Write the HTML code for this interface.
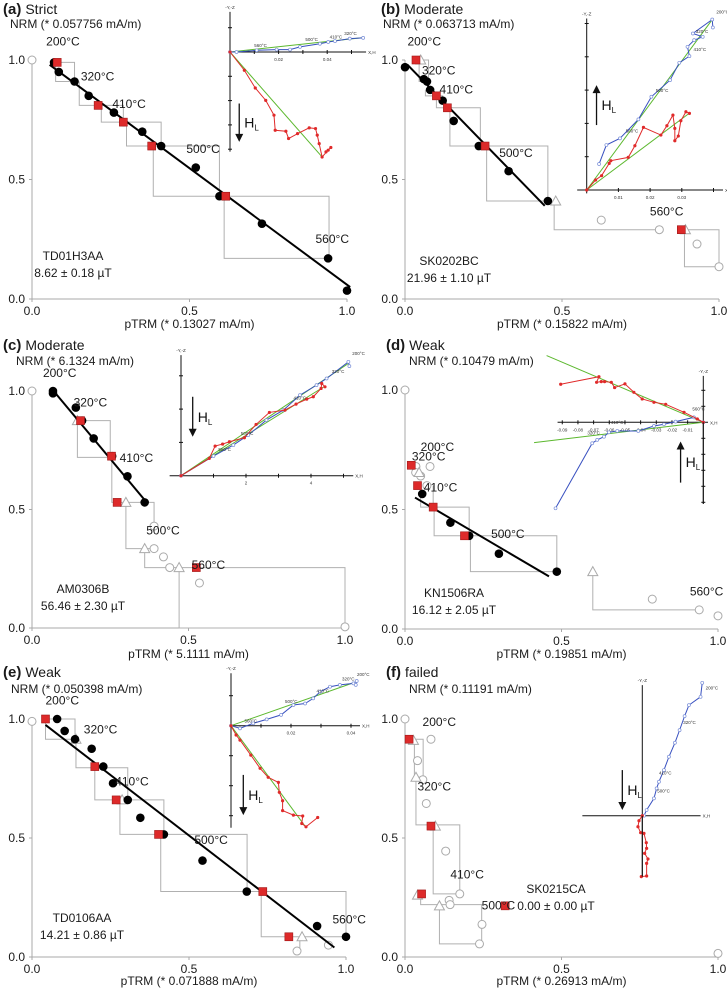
<!DOCTYPE html>
<html><head><meta charset="utf-8">
<style>
html,body{margin:0;padding:0;background:#fff;}
svg{display:block;font-family:"Liberation Sans",Arial,sans-serif;}
</style></head>
<body>
<svg id="fig" width="727" height="992" viewBox="0 0 727 992" xmlns="http://www.w3.org/2000/svg"></svg>
<script>
// ===== Panel (a) data =====
const a_nrm = [[.07,.99],[.085,.95],[.135,.91],[.18,.85],[.26,.78],[.29,.74],[.35,.70],[.41,.64],[.52,.55],[.595,.43],[.73,.315],[.94,.17],[1.0,.035]];
const a_check = [[.08,.99],[.21,.81],[.29,.74],[.38,.64],[.615,.43]];
const a_open = [[0,1.0]];
const a_tri = [];
const a_fit = [[.056,.98],[1.01,.05]];
const a_steps = [[[.075,.99],[.135,.99],[.135,.91],[.075,.91],[.075,.99]],[[.15,.91],[.15,.81],[.29,.81],[.29,.74]],[[.22,.81],[.22,.74],[.41,.74],[.41,.64]],[[.30,.74],[.30,.64],[.595,.64],[.595,.43]],[[.385,.64],[.385,.43],[.943,.43],[.943,.17]],[[.61,.43],[.61,.17],[.943,.17]]];
const a_temps = [["200°C",.045,1.06],["320°C",.155,.915],["410°C",.255,.80],["500°C",.49,.61],["560°C",.90,.235]];
// ===== Panel (b) data =====
const b_nrm = [[0,.97],[.06,.92],[.07,.91],[.08,.875],[.12,.83],[.155,.745],[.235,.64],[.33,.535],[.455,.41]];
const b_check = [[.035,1.0],[.1,.85],[.135,.80],[.255,.64],[.88,.29]];
const b_open = [[.625,.33],[.81,.29],[.93,.23],[1.0,.135]];
const b_tri = [[.05,1.0],[.48,.41],[.893,.29]];
const b_fit = [[.008,.98],[.445,.39]];
const b_steps = [[[.045,1.0],[.075,1.0],[.075,.91],[.045,.91],[.045,1.0]],[[.065,.875],[.065,.85],[.12,.85],[.12,.83]],[[.1,.85],[.1,.80],[.24,.80],[.24,.64]],[[.143,.80],[.143,.64],[.455,.64],[.455,.41]],[[.26,.64],[.26,.41],[.455,.41]],[[.475,.41],[.475,.29],[.81,.29]],[[.88,.29],[1.0,.29],[1.0,.135],[.89,.135],[.89,.29]]];
const b_temps = [["200°C",.008,1.06],["320°C",.054,.94],["410°C",.11,.86],["500°C",.30,.595],["560°C",.78,.35]];
// ===== Panel (c) data =====
const c_nrm = [[.067,1.0],[.067,.99],[.14,.93],[.16,.875],[.197,.80],[.256,.725],[.305,.64],[.36,.53]];
const c_check = [[.155,.875],[.254,.725],[.272,.53],[.525,.255]];
const c_open = [[0,1.0],[.39,.43],[.39,.335],[.42,.30],[.44,.255],[.535,.19],[1.0,.005]];
const c_tri = [[.145,.875],[.30,.53],[.36,.335],[.47,.255]];
const c_fit = [[.069,1.0],[.36,.54]];
const c_steps = [[[.145,.875],[.25,.875],[.25,.72],[.145,.72],[.145,.875]],[[.255,.725],[.255,.53],[.39,.53],[.39,.43]],[[.30,.53],[.30,.335],[.39,.335]],[[.36,.335],[.36,.255],[1.0,.255],[1.0,.005]],[[.47,.255],[.47,0],[1.0,0]]];
const c_temps = [["200°C",.035,1.06],["320°C",.133,.935],["410°C",.28,.70],["500°C",.365,.395],["560°C",.51,.25]];
// ===== Panel (d) data =====
const d_nrm = [[.055,.565],[.145,.445],[.205,.39],[.30,.315],[.485,.24]];
const d_check = [[.02,.685],[.04,.60],[.09,.51],[.19,.39]];
const d_open = [[0,1.0],[.035,.68],[.034,.655],[.05,.64],[.08,.68],[.07,.60],[.79,.125],[.94,.08],[1.0,.055]];
const d_tri = [[.045,.655],[.60,.24]];
const d_fit = [[.032,.55],[.46,.22]];
const d_steps = [[[.05,.56],[.05,.51],[.205,.51],[.205,.39]],[[.093,.51],[.093,.39],[.485,.39],[.485,.24]],[[.209,.39],[.209,.24],[.485,.24]],[[.60,.24],[.60,.08],[.94,.08]],[[.09,.60],[.09,.51]]];
const d_temps = [["200°C",.05,.745],["320°C",.022,.705],["410°C",.06,.575],["500°C",.275,.38],["560°C",.91,.14]];
// ===== Panel (e) data =====
const e_nrm = [[.08,1.0],[.104,.95],[.137,.915],[.19,.875],[.227,.80],[.258,.73],[.305,.66],[.345,.585],[.42,.515],[.543,.405],[.684,.275],[.908,.13],[1.0,.085]];
const e_check = [[.043,1.0],[.20,.80],[.268,.66],[.403,.515],[.735,.275],[.818,.085]];
const e_open = [[0,.99],[.844,.025],[.944,.05]];
const e_tri = [[.14,.915],[.287,.66],[.86,.085]];
const e_fit = [[.043,.975],[.963,.04]];
const e_steps = [[[.043,1.0],[.137,1.0],[.137,.915],[.043,.915],[.043,1.0]],[[.14,.915],[.14,.795],[.305,.795],[.305,.66]],[[.20,.795],[.20,.66],[.42,.66],[.42,.515]],[[.28,.66],[.28,.515],[.685,.515],[.685,.275]],[[.41,.515],[.41,.275],[1.0,.275],[1.0,.085]],[[.73,.275],[.73,.085],[1.0,.085]],[[.853,.085],[.853,.03]]];
const e_temps = [["200°C",.043,1.06],["320°C",.165,.94],["410°C",.265,.72],["500°C",.517,.475],["560°C",.957,.14]];
// ===== Panel (f) data =====
const f_nrm = [];
const f_check = [[.013,.915],[.083,.55],[.053,.265],[.32,.215]];
const f_open = [[0,1.0],[.083,.915],[.04,.825],[.057,.745],[.068,.645],[.13,.445],[.175,.265],[.141,.238],[.144,.22],[.246,.137],[.238,.055],[1.0,.015]];
const f_tri = [[.027,.91],[.035,.755],[.097,.55],[.04,.26],[.11,.215]];
const f_fit = [];
const f_steps = [[[.015,.915],[.058,.915],[.058,.755],[.03,.755],[.03,.915]],[[.035,.755],[.035,.555],[.175,.555],[.175,.265]],[[.09,.555],[.09,.265],[.175,.265]],[[.05,.265],[.05,.22],[.245,.22],[.245,.055]],[[.11,.22],[.11,.055],[.24,.055]]];
const f_temps = [["200°C",.056,.97],["320°C",.04,.70],["410°C",.145,.33],["500°C",.245,.20]];

// ===== Zijderveld inset data (units of axis tick spacing) =====
const za_blue = [[0,0],[.27,0],[1.1,.07],[1.92,.1],[2.47,.1],[2.88,.21],[3.7,.34],[4.04,.41],[4.32,.45],[4.93,.55],[5.48,.58]];
const za_red = [[0,0],[.59,-.75],[1.04,-1.48],[1.47,-1.99],[1.81,-2.6],[1.86,-3.22],[2.3,-3.26],[2.41,-3.56],[2.78,-3.36],[3.26,-3.12],[3.52,-3.15],[3.59,-3.42],[3.67,-3.77],[3.79,-4.32],[4.04,-4.04],[4.15,-3.93],[3.95,-4.11]];
const za_green = [[5.48,.59],[3.79,-4.32]];
const zb_blue = [[.39,.78],[.62,1.35],[1.05,1.55],[1.63,2.12],[2.04,2.8],[2.63,3.3],[2.92,3.82],[3.24,4.02],[3.18,4.3],[3.39,4.5],[3.66,4.6],[3.35,4.7],[3.96,5.12],[3.98,4.88]];
const zb_red = [[0,0],[.28,.3],[.47,.43],[.71,.8],[.76,.88],[1.31,.98],[1.52,1.33],[1.79,1.88],[2.34,1.65],[2.53,1.93],[2.72,2.25],[2.78,1.85],[2.78,1.48],[2.89,1.62],[2.97,2.08],[3.13,2.35],[3.24,2.3]];
const zb_green = [[3.97,5.13],[3.23,2.3]];
const zc_blue = [[0,0],[1,.59],[1.61,.92],[2.07,1.22],[2.63,1.67],[3.15,1.97],[3.66,2.42],[4.17,2.72],[4.48,2.92],[5.15,3.42],[5.18,3.29]];
const zc_red = [[0,0],[.87,.52],[1.05,.89],[1.28,.95],[1.49,1.02],[1.95,1.14],[2.31,1.54],[2.72,1.9],[3.2,1.97],[3.54,2.15],[3.87,2.3],[4.07,2.37],[4.31,2.62],[4.33,2.77],[4.43,2.67]];
const zc_green = [[5.15,3.37],[4.43,2.69]];
const zd_blue = [[0,0],[-.6,.31],[-1.77,.04],[-2.51,-.125],[-3.15,-.23],[-4.15,-.54],[-5.49,-.54],[-6.02,-.625],[-6.34,-.9],[-6.77,-1.1],[-7.09,-1.31],[-9.43,-5.375]];
const zd_red = [[-9.1,2.38],[-6.66,2.85],[-6.81,2.5],[-6.51,2.54],[-6.3,2.54],[-5.87,2.5],[-5.66,2.17],[-5.0,2.4],[-4.43,1.875],[-3.9,1.46],[-3.15,1.25],[-2.4,1.125],[-1.23,.625],[-.38,.21],[0,0]];
const zd_green = [[-10,4.17],[-10.8,-1.27]];
const ze_blue = [[0,0],[.3,-.09],[.74,.08],[1.19,.21],[1.67,.36],[2.08,.69],[2.47,.74],[2.74,.91],[2.97,1.13],[3.3,1.3],[3.63,1.36],[4.08,1.41],[4.19,1.49],[4.16,1.36]];
const ze_red = [[0,0],[.17,-.31],[.3,-.48],[.66,-.98],[.97,-1.42],[1.24,-1.72],[1.58,-1.89],[1.61,-2.22],[1.72,-2.5],[1.72,-2.83],[2.08,-2.98],[2.39,-3.01],[2.36,-3.26],[2.5,-3.37],[2.89,-3.06]];
const ze_green = [[4.19,1.47],[2.5,-3.39]];
const zf_blue = [[.05,0],[.13,.17],[.35,.52],[.43,.82],[.5,1.02],[.65,1.37],[.8,1.77],[.98,2.19],[1.12,2.57],[1.27,2.99],[1.4,3.32],[1.75,3.57],[1.8,3.99]];
const zf_red = [[0,0],[-.1,-.15],[-.13,-.33],[-.05,-.51],[.05,-.53],[.12,-.81],[.13,-.98],[.07,-1.13],[.17,-1.3],[.13,-1.43],[.13,-1.81],[-.03,-1.83]];
const zf_green = [];

const NS="http://www.w3.org/2000/svg";
const svg=document.getElementById('fig');
function mk(tag,attrs,parent){const e=document.createElementNS(NS,tag);for(const k in attrs)e.setAttribute(k,attrs[k]);(parent||svg).appendChild(e);return e;}
function txt(s,x,y,size,parent,anchor,weight,fill){const t=mk('text',{x:x,y:y,'font-size':size,'text-anchor':anchor||'start','font-weight':weight||'normal',fill:fill||'#1a1a1a'},parent);t.textContent=s;return t;}

const panels=[
 {id:'a',L:0,T:0,x0:32,W:315,yb:299,H:239,title:'Strict',tx:3,ty:14,nrm:'NRM (* 0.057756 mA/m)',nx:10,ny:28,ptrm:'pTRM (* 0.13027 mA/m)',py:328,name:'TD01H3AA',val:'8.62 ± 0.18 µT',sx:73,sy1:260,
  d:[a_nrm,a_check,a_open,a_tri,a_fit,a_steps,a_temps]},
 {id:'b',L:364,T:0,x0:405,W:314,yb:299,H:239,title:'Moderate',tx:381,ty:14,nrm:'NRM (* 0.063713 mA/m)',nx:383,ny:28,ptrm:'pTRM (* 0.15822 mA/m)',py:328,name:'SK0202BC',val:'21.96 ± 1.10 µT',sx:449,sy1:265,
  d:[b_nrm,b_check,b_open,b_tri,b_fit,b_steps,b_temps]},
 {id:'c',L:0,T:330,x0:32,W:313,yb:628,H:237,title:'Moderate',tx:3,ty:350,nrm:'NRM (* 6.1324 mA/m)',nx:16,ny:365,ptrm:'pTRM (* 5.1111 mA/m)',py:658,name:'AM0306B',val:'56.46 ± 2.30 µT',sx:83,sy1:593,
  d:[c_nrm,c_check,c_open,c_tri,c_fit,c_steps,c_temps]},
 {id:'d',L:364,T:330,x0:405,W:313,yb:629,H:239,title:'Weak',tx:386,ty:350,nrm:'NRM (* 0.10479 mA/m)',nx:409,ny:365,ptrm:'pTRM (* 0.19851 mA/m)',py:658,name:'KN1506RA',val:'16.12 ± 2.05 µT',sx:454,sy1:597,
  d:[d_nrm,d_check,d_open,d_tri,d_fit,d_steps,d_temps]},
 {id:'e',L:0,T:660,x0:32,W:314,yb:957,H:238,title:'Weak',tx:3,ty:677,nrm:'NRM (* 0.050398 mA/m)',nx:11,ny:693,ptrm:'pTRM (* 0.071888 mA/m)',py:985,name:'TD0106AA',val:'14.21 ± 0.86 µT',sx:82,sy1:922,
  d:[e_nrm,e_check,e_open,e_tri,e_fit,e_steps,e_temps]},
 {id:'f',L:364,T:660,x0:405,W:313,yb:957,H:238,title:'failed',tx:386,ty:677,nrm:'NRM (* 0.11191 mA/m)',nx:409,ny:693,ptrm:'pTRM (* 0.26913 mA/m)',py:985,name:'SK0215CA',val:'0.00 ± 0.00 µT',sx:556,sy1:893,
  d:[f_nrm,f_check,f_open,f_tri,f_fit,f_steps,f_temps]}
];

const insets=[
 {ox:230,oy:52,sx:24.3,sy:24.3,xr:[0,5.6],yr:[-4.1,1.65],xt:[1,2,3,4,5],yt:[-4,-3,-2,-1,1],xl:[[2,'0.02'],[4,'0.04']],blue:za_blue,red:za_red,green:za_green,lab:[['560°C',1,.2],['500°C',3.1,.45],['410°C',4.1,.55],['320°C',4.7,.7]],hl:[.38,-2.12,-3.7],cross:false},
 {ox:586.7,oy:190,sx:31.7,sy:33.3,xr:[-.3,4.3],yr:[-.1,5.15],xt:[1,2,3,4],yt:[1,2,3,4,5],xl:[[1,'0.01'],[2,'0.02'],[3,'0.03']],blue:zb_blue,red:zb_red,green:zb_green,lab:[['200°C',4.09,5.3],['320°C',3.44,4.72],['410°C',3.37,4.18],['500°C',2.18,2.95],['560°C',1.23,1.72]],hl:[.31,1.95,3.15],cross:false},
 {ox:181,oy:475.7,sx:32.5,sy:33.3,xr:[-.35,5.3],yr:[0,3.62],xt:[1,2,3,4,5],yt:[1,2,3],xl:[[2,'2'],[4,'4']],blue:zc_blue,red:zc_red,green:zc_green,lab:[['200°C',5.27,3.62],['320°C',4.64,3.09],['410°C',3.46,2.29],['500°C',1.84,1.22],['560°C',1.15,.74]],hl:[.36,2.37,1.17],cross:false},
 {ox:703.3,oy:422.3,sx:15.67,sy:16,xr:[-9.3,.3],yr:[-5.1,2.9],xt:[-9,-8,-7,-6,-5,-4,-3,-2,-1],yt:[-5,-4,-3,-2,-1,1,2],xl:[[-9,'-0.09'],[-8,'-0.08'],[-7,'-0.07'],[-6,'-0.06'],[-5,'-0.05'],[-4,'-0.04'],[-3,'-0.03'],[-2,'-0.02'],[-1,'-0.01']],blue:zd_blue,red:zd_red,green:zd_green,lab:[['560°C',-.7,.73],['410°C',-5.9,-.1],['320°C',-7.4,-.75]],hl:[-1.45,-3.77,-1.2],cross:true},
 {ox:231,oy:725.7,sx:30,sy:30,xr:[0,4.3],yr:[-3.4,1.75],xt:[1,2,3,4],yt:[-3,-2,-1,1],xl:[[2,'0.02'],[4,'0.04']],blue:ze_blue,red:ze_red,green:ze_green,lab:[['560°C',.45,.1],['500°C',1.8,.75],['410°C',2.85,1.1],['320°C',3.7,1.5],['200°C',4.2,1.65]],hl:[.41,-1.64,-2.98],cross:false},
 {ox:642.3,oy:815.7,sx:33.3,sy:33.3,xr:[-1.8,1.75],yr:[-1.83,3.92],xt:[],yt:[],xl:[],blue:zf_blue,red:zf_red,green:zf_green,lab:[['200°C',1.9,3.79],['320°C',1.23,2.75],['410°C',.5,1.24],['500°C',.45,.7]],hl:[-.6,1.37,.17],cross:true}
];

panels.forEach((p,i)=>{
  const g=mk('g',{});
  
  
  const X=v=>p.x0+v*p.W, Y=v=>p.yb-v*p.H;
  const [nrm,chk,open,tri,fit,steps,temps]=p.d;
  // title
  const t=mk('text',{x:p.tx,y:p.ty,'font-size':15,fill:'#1a1a1a'},g);
  
  
  const b1=mk('tspan',{'font-weight':'bold'},t);b1.textContent='('+p.id+')';
  const b2=mk('tspan',{dx:4,'font-size':14},t);b2.textContent=p.title;
  // axes
  const ax=mk('g',{stroke:'#a8a8a8','stroke-width':1,fill:'none'},g);
  
  
  mk('line',{x1:X(0),y1:Y(0),x2:X(0),y2:Y(1.0)},ax);
  mk('line',{x1:X(0),y1:Y(0),x2:X(1.0),y2:Y(0)},ax);
  [0,.5,1].forEach(v=>{mk('line',{x1:X(0)-3,y1:Y(v),x2:X(0),y2:Y(v)},ax);mk('line',{x1:X(v),y1:Y(0),x2:X(v),y2:Y(0)+3},ax);});
  [0,.5,1].forEach(v=>{
    const yl=txt(v.toFixed(1),X(0)-7,Y(v)+4,12,g,'end');
    
    
    const xl=txt(v.toFixed(1),X(v),p.yb+16,12,g,'middle');
    
    
  });
  const nl=txt(p.nrm,p.nx,p.ny,12,g);
  
  
  const pl=txt(p.ptrm,X(0.5),p.py,12,g,'middle');
  
  
  // steps
  steps.forEach(s=>{const pp=mk('polyline',{points:s.map(q=>X(q[0])+','+Y(q[1])).join(' '),fill:'none',stroke:'#b0b0b0','stroke-width':1},g);
    
    });
  open.forEach(q=>{const c=mk('circle',{cx:X(q[0]),cy:Y(q[1]),r:4,fill:'#fff',stroke:'#aaa','stroke-width':1},g);
    
    });
  tri.forEach(q=>{const x=X(q[0]),y=Y(q[1]);const c=mk('polygon',{points:`${x},${y-5} ${x-5},${y+4} ${x+5},${y+4}`,fill:'#fff',stroke:'#aaa','stroke-width':1},g);
    
    });
  if(fit.length){const l=mk('line',{x1:X(fit[0][0]),y1:Y(fit[0][1]),x2:X(fit[1][0]),y2:Y(fit[1][1]),stroke:'#000','stroke-width':2},g);
    
    }
  nrm.forEach(q=>{const c=mk('circle',{cx:X(q[0]),cy:Y(q[1]),r:4.3,fill:'#000'},g);
    
    });
  chk.forEach(q=>{const c=mk('rect',{x:X(q[0])-4,y:Y(q[1])-4,width:8,height:8,fill:'#dd2a2a',stroke:'#a01818','stroke-width':.6},g);
    
    });
  temps.forEach(q=>{const tl=txt(q[0],X(q[1]),Y(q[2]),12,g);
    
    });
  const sn=txt(p.name,p.sx,p.sy1,12,g,'middle');
  
  
  const sv=txt(p.val,p.sx,p.sy1+17,12,g,'middle');
  
  

  // inset
  const z=insets[i];
  const ig=mk('g',{},g);
  
  
  const ZX=u=>z.ox+u*z.sx, ZY=v=>z.oy-v*z.sy;
  mk('line',{x1:ZX(z.xr[0]),y1:z.oy,x2:ZX(z.xr[1]),y2:z.oy,stroke:'#111','stroke-width':1},ig);
  mk('line',{x1:z.ox,y1:ZY(z.yr[0]),x2:z.ox,y2:ZY(z.yr[1]),stroke:'#111','stroke-width':1},ig);
  z.xt.forEach(u=>mk('line',{x1:ZX(u),y1:z.oy-2,x2:ZX(u),y2:z.oy+2,stroke:'#111'},ig));
  z.yt.forEach(v=>mk('line',{x1:z.ox-2,y1:ZY(v),x2:z.ox+2,y2:ZY(v),stroke:'#111'},ig));
  z.xl.forEach(q=>txt(q[1],ZX(q[0]),z.oy+9,4.5,ig,'middle',null,'#333'));
  txt('-Y,-Z',z.ox,ZY(z.yr[1])-3,4.5,ig,'middle',null,'#333');
  txt('X,H',ZX(z.xr[1])+2,z.oy+2,4.5,ig,'start',null,'#333');
  z.green.forEach(q=>{const l=mk('line',{x1:z.ox,y1:z.oy,x2:ZX(q[0]),y2:ZY(q[1]),stroke:'#5cb82e','stroke-width':1},ig);
    
    });
  const bl=mk('polyline',{points:z.blue.map(q=>ZX(q[0])+','+ZY(q[1])).join(' '),fill:'none',stroke:'#3850c0','stroke-width':1},ig);
  
  
  z.blue.forEach(q=>mk('circle',{cx:ZX(q[0]),cy:ZY(q[1]),r:1.5,fill:'#fff',stroke:'#7a8fd8','stroke-width':.7},ig));
  const rl=mk('polyline',{points:z.red.map(q=>ZX(q[0])+','+ZY(q[1])).join(' '),fill:'none',stroke:'#e02a2a','stroke-width':1},ig);
  
  
  z.red.forEach(q=>mk('circle',{cx:ZX(q[0]),cy:ZY(q[1]),r:1.6,fill:'#e02a2a'},ig));
  if(z.cross) mk('line',{x1:z.ox,y1:z.oy,x2:z.ox,y2:ZY(z.yr[0]),stroke:'#111','stroke-width':1},ig);
  z.lab.forEach(q=>txt(q[0],ZX(q[1]),ZY(q[2]),4.5,ig,'start',null,'#333'));
  // H_L arrow
  const hx=ZX(z.hl[0]),y1=ZY(z.hl[1]),y2=ZY(z.hl[2]);
  const dir=y2>y1?1:-1;
  const ag=mk('g',{},ig);
  
  
  mk('line',{x1:hx,y1:y1,x2:hx,y2:y2-dir*7,stroke:'#111','stroke-width':1.3},ag);
  mk('polygon',{points:`${hx-4},${y2-dir*8} ${hx+4},${y2-dir*8} ${hx},${y2}`,fill:'#111'},ag);
  const ht=mk('text',{x:hx+5,y:(y1+y2)/2+5,'font-size':14,fill:'#111'},ag);
  const h1=mk('tspan',{},ht);h1.textContent='H';
  const h2=mk('tspan',{'font-size':8,dy:3},ht);h2.textContent='L';
});
</script>
</body></html>
